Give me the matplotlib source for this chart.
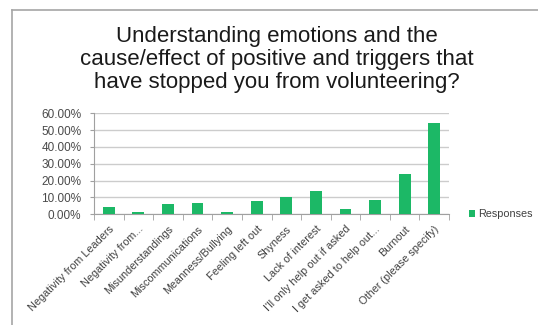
import numpy as np
import matplotlib
matplotlib.use("Agg")
import matplotlib.pyplot as plt
from matplotlib.lines import Line2D

# Survey answers and the share of responses for each one
categories = [
    "Negativity from Leaders", "Negativity from...", "Misunderstandings",
    "Miscommunications", "Meanness/Bullying", "Feeling left out", "Shyness",
    "Lack of interest", "I'll only help out if asked", "I get asked to help out...",
    "Burnout", "Other (please specify)",
]
responses = [4.2, 1.4, 5.9, 6.9, 1.2, 7.9, 10.5, 13.8, 3.0, 8.2, 23.8, 54.1]
y_ticks = [0, 10, 20, 30, 40, 50, 60]
y_tick_labels = ["%.2f%%" % v for v in y_ticks]

title = ("Understanding emotions and the\n"
         "cause/effect of positive and triggers that\n"
         "have stopped you from volunteering?")

W, H = 538, 325
plt.rcParams["font.family"] = ["Liberation Sans", "DejaVu Sans"]
fig = plt.figure(figsize=(W / 100, H / 100), dpi=100)
fig.patch.set_facecolor("white")

# chart area border (top and left edges only)
border = "#a6a6a6"
fig.add_artist(Line2D([12 / W, 1], [1 - 10 / H, 1 - 10 / H], color=border, lw=1.2, transform=fig.transFigure))
fig.add_artist(Line2D([12 / W, 12 / W], [0, 1 - 10 / H], color=border, lw=1.2, transform=fig.transFigure))

fig.text(277 / W, 1 - 26 / H, title, ha="center", va="top", fontsize=16,
         color="#1a1a1a", linespacing=1.12)

ax = fig.add_axes([94 / W, 1 - 214.3 / H, (449 - 94) / W, (214.3 - 113.3) / H])
x = np.arange(len(categories))
bars = ax.bar(x, responses, width=0.4, color="#1cb866", label="Responses", zorder=3)

ax.set_xlim(-0.5, len(categories) - 0.5)
ax.set_ylim(0, 60)
ax.set_yticks(y_ticks)
ax.set_yticklabels(y_tick_labels, fontsize=8.5, color="#4a4a4a")
ax.grid(axis="y", color="#cccccc", lw=1.0, zorder=0)

ax.set_xticks(x)
ax.set_xticklabels(categories, rotation=45, ha="right", va="top",
                   rotation_mode="anchor", fontsize=7.8, color="#404040")
ax.set_xticks(np.arange(-0.5, len(categories)), minor=True)
ax.tick_params(axis="x", which="major", length=0, pad=7)
ax.tick_params(axis="x", which="minor", length=4, color="#a0a0a0", direction="out")
ax.tick_params(axis="y", length=3, color="#a0a0a0", pad=6)

for side in ["top", "right"]:
    ax.spines[side].set_visible(False)
ax.spines["left"].set_color("#a0a0a0")
ax.spines["bottom"].set_color("#a0a0a0")

fig.legend(handles=[bars], labels=["Responses"], loc="center left",
           bbox_to_anchor=(459 / W, 1 - 214 / H), frameon=False, fontsize=7.8,
           handlelength=0.6, handleheight=0.6, handletextpad=0.3,
           labelcolor="#404040")

fig.savefig("out.png", dpi=100)
